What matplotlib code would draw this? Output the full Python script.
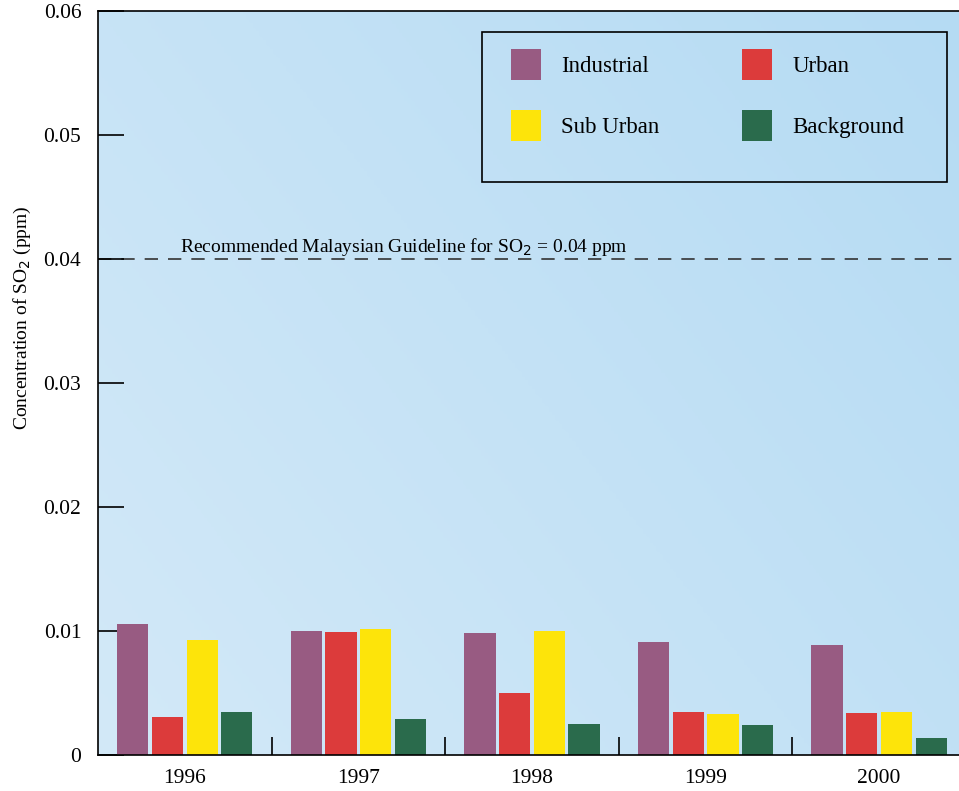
import numpy as np
import matplotlib.pyplot as plt
from matplotlib.colors import LinearSegmentedColormap
from matplotlib.patches import Rectangle

years = ["1996", "1997", "1998", "1999", "2000"]
industrial = [0.0106, 0.0100, 0.0098, 0.0091, 0.0089]
urban = [0.0031, 0.0099, 0.0050, 0.0035, 0.0034]
sub_urban = [0.0093, 0.0102, 0.0100, 0.0033, 0.0035]
background = [0.0035, 0.0029, 0.0025, 0.0024, 0.0014]
guideline = 0.04

plt.rcParams['font.family'] = ['Liberation Serif', 'DejaVu Serif']

W, H = 959, 791
fig = plt.figure(figsize=(W / 100, H / 100), dpi=100)
ax = fig.add_axes([98 / W, 1 - 755 / H, 1 - 98 / W, (755 - 11) / H])

# light blue paper background
grad = np.linspace(0, 1, 256).reshape(1, -1) * 0.6 + np.linspace(0, 1, 256).reshape(-1, 1) * 0.4
cmap = LinearSegmentedColormap.from_list("bg", ["#d3e9f8", "#b5dbf3"])
ax.imshow(grad, cmap=cmap, extent=[0, 1, 0, 1], transform=ax.transAxes,
          aspect='auto', zorder=0, origin='lower')

x = np.arange(len(years))
series = [industrial, urban, sub_urban, background]
names = ["Industrial", "Urban", "Sub Urban", "Background"]
colors = ['#985b82', '#dc3b3b', '#fde40a', '#2a6b4c']
offsets = [-0.3, -0.1, 0.1, 0.3]
bars = []
for vals, name, c, off in zip(series, names, colors, offsets):
    bars.append(ax.bar(x + off, vals, 0.18, color=c, label=name, zorder=2))

ax.axhline(guideline, color='#333333', lw=1.2, ls=(0, (8, 6)), zorder=1)
ax.text(-0.03, guideline + 0.0006, "Recommended Malaysian Guideline for SO$_2$ = 0.04 ppm",
        fontsize=14, ha='left', va='baseline', zorder=3)

ax.set_xlim(-0.5, 4.46)
ax.set_ylim(0, 0.06)
ax.set_yticks([0, 0.01, 0.02, 0.03, 0.04, 0.05, 0.06])
ax.set_yticklabels(["0", "0.01", "0.02", "0.03", "0.04", "0.05", "0.06"])
ax.tick_params(axis='y', direction='in', length=19, width=1.2, pad=12, labelsize=15.5)
ax.set_xticks(x)
ax.set_xticklabels(years)
ax.tick_params(axis='x', which='major', length=0, pad=10, labelsize=15.5)
ax.set_xticks(x[:-1] + 0.5, minor=True)
ax.tick_params(axis='x', which='minor', direction='in', length=13, width=1.2)

ax.set_ylabel("Concentration of SO$_2$ (ppm)", fontsize=14)
ax.yaxis.set_label_coords(-0.076, 0.588)

ax.spines['right'].set_visible(False)
for s in ['left', 'bottom', 'top']:
    ax.spines[s].set_linewidth(1.2)

# legend: row-wise order Industrial, Urban / Sub Urban, Background
order = [0, 2, 1, 3]
leg = ax.legend([bars[i] for i in order], [names[i] for i in order],
                ncol=2, loc='upper left', bbox_to_anchor=(511 / W, 1 - 49 / H),
                bbox_transform=fig.transFigure, fontsize=16.5, frameon=False,
                handlelength=1.3, handleheight=1.7, handletextpad=0.9,
                columnspacing=3.6, labelspacing=1.3, borderpad=0, borderaxespad=0)
fig.patches.append(Rectangle((482 / W, 1 - 182 / H), (947 - 482) / W, (182 - 32) / H,
                             transform=fig.transFigure, fill=False, edgecolor='black',
                             linewidth=1.2, zorder=5))

fig.savefig("out.png", dpi=100)
